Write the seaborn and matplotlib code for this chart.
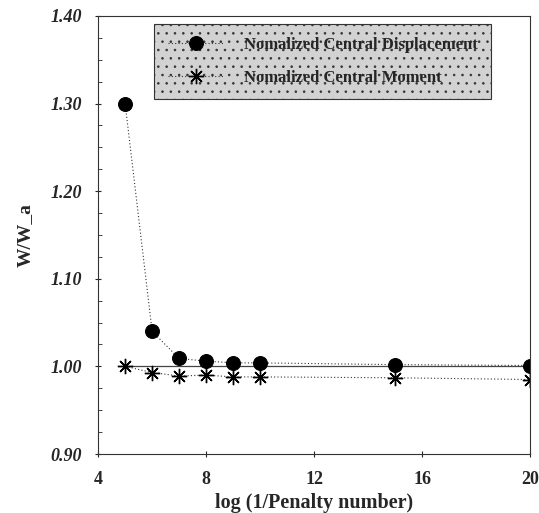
import numpy as np
import matplotlib
matplotlib.use("Agg")
import matplotlib.pyplot as plt
import seaborn as sns

# log(1/penalty number) values where the solution was evaluated
penalty_log = [5, 6, 7, 8, 9, 10, 15, 20]
# central displacement normalised by the analytic value
displacement = [1.300, 1.040, 1.009, 1.006, 1.004, 1.004, 1.002, 1.001]
# central moment normalised by the analytic value
moment = [1.000, 0.993, 0.989, 0.990, 0.988, 0.988, 0.987, 0.985]
analytic = 1.0

series_names = ["Nomalized Central Displacement", "Nomalized Central Moment"]
x_ticks = [4, 8, 12, 16, 20]
y_ticks = [0.90, 1.00, 1.10, 1.20, 1.30, 1.40]

sns.set_style("ticks")
plt.rcParams["font.family"] = ["Liberation Serif", "DejaVu Serif"]
plt.rcParams["font.weight"] = "bold"
plt.rcParams["hatch.color"] = "#a8a8a8"
plt.rcParams["hatch.linewidth"] = 0.6

fig = plt.figure(figsize=(5.39, 5.13), dpi=100)
ax = fig.add_axes([0.182, 0.115, 0.802, 0.854])

# displacement: filled dots joined by a dotted line
sns.lineplot(
    x=penalty_log, y=displacement, ax=ax, label=series_names[0],
    color="#333333", linestyle=(0, (1, 2)), linewidth=0.8,
    marker="o", markersize=10, markerfacecolor="black", markeredgecolor="black",
)
# moment: asterisks joined by a dotted line
sns.lineplot(
    x=penalty_log, y=moment, ax=ax, label=series_names[1],
    color="#333333", linestyle=(0, (1, 2)), linewidth=0.8,
    marker=(8, 2, 0), markersize=11, markeredgewidth=1.0, markeredgecolor="black",
)

# analytic reference level
ax.hlines(analytic, penalty_log[0], penalty_log[-1], colors="#444444", linewidth=0.9, zorder=1)

ax.set_xlim(4, 20)
ax.set_ylim(0.90, 1.40)
ax.set_xticks(x_ticks)
ax.set_xticklabels([str(v) for v in x_ticks], fontsize=13, fontweight="bold")
ax.set_yticks(y_ticks)
ax.set_yticklabels([f"{v:.2f}" for v in y_ticks], fontsize=13, fontweight="bold", fontstyle="italic")
ax.set_yticks(np.arange(0.90, 1.401, 0.025), minor=True)
ax.tick_params(axis="both", direction="inout", length=5, width=0.8)
ax.tick_params(axis="y", pad=9)
ax.tick_params(axis="x", pad=10)
ax.tick_params(axis="y", which="minor", direction="in", length=3, width=0.6)
for s in ax.spines.values():
    s.set_linewidth(0.8)
    s.set_color("#333333")

ax.set_xlabel("log (1/Penalty number)", fontsize=14.5, fontweight="bold", labelpad=3)
ax.set_ylabel("W/W_a", fontsize=14, fontweight="bold", labelpad=12)

leg = ax.legend(
    loc="upper left", bbox_to_anchor=(0.122, 0.99), frameon=True, fancybox=False,
    prop={"family": "Liberation Serif", "weight": "bold", "size": 12},
    handlelength=3.4, borderpad=0.8, labelspacing=1.0, handletextpad=1.2,
    borderaxespad=0.2,
)
frame = leg.get_frame()
frame.set_facecolor("#d2d2d2")
frame.set_edgecolor("#333333")
frame.set_linewidth(0.8)
frame.set_alpha(1.0)
frame.set_hatch("..")
if hasattr(frame, "set_hatchcolor"):
    frame.set_hatchcolor("#a8a8a8")

fig.savefig("out.png", dpi=100)
